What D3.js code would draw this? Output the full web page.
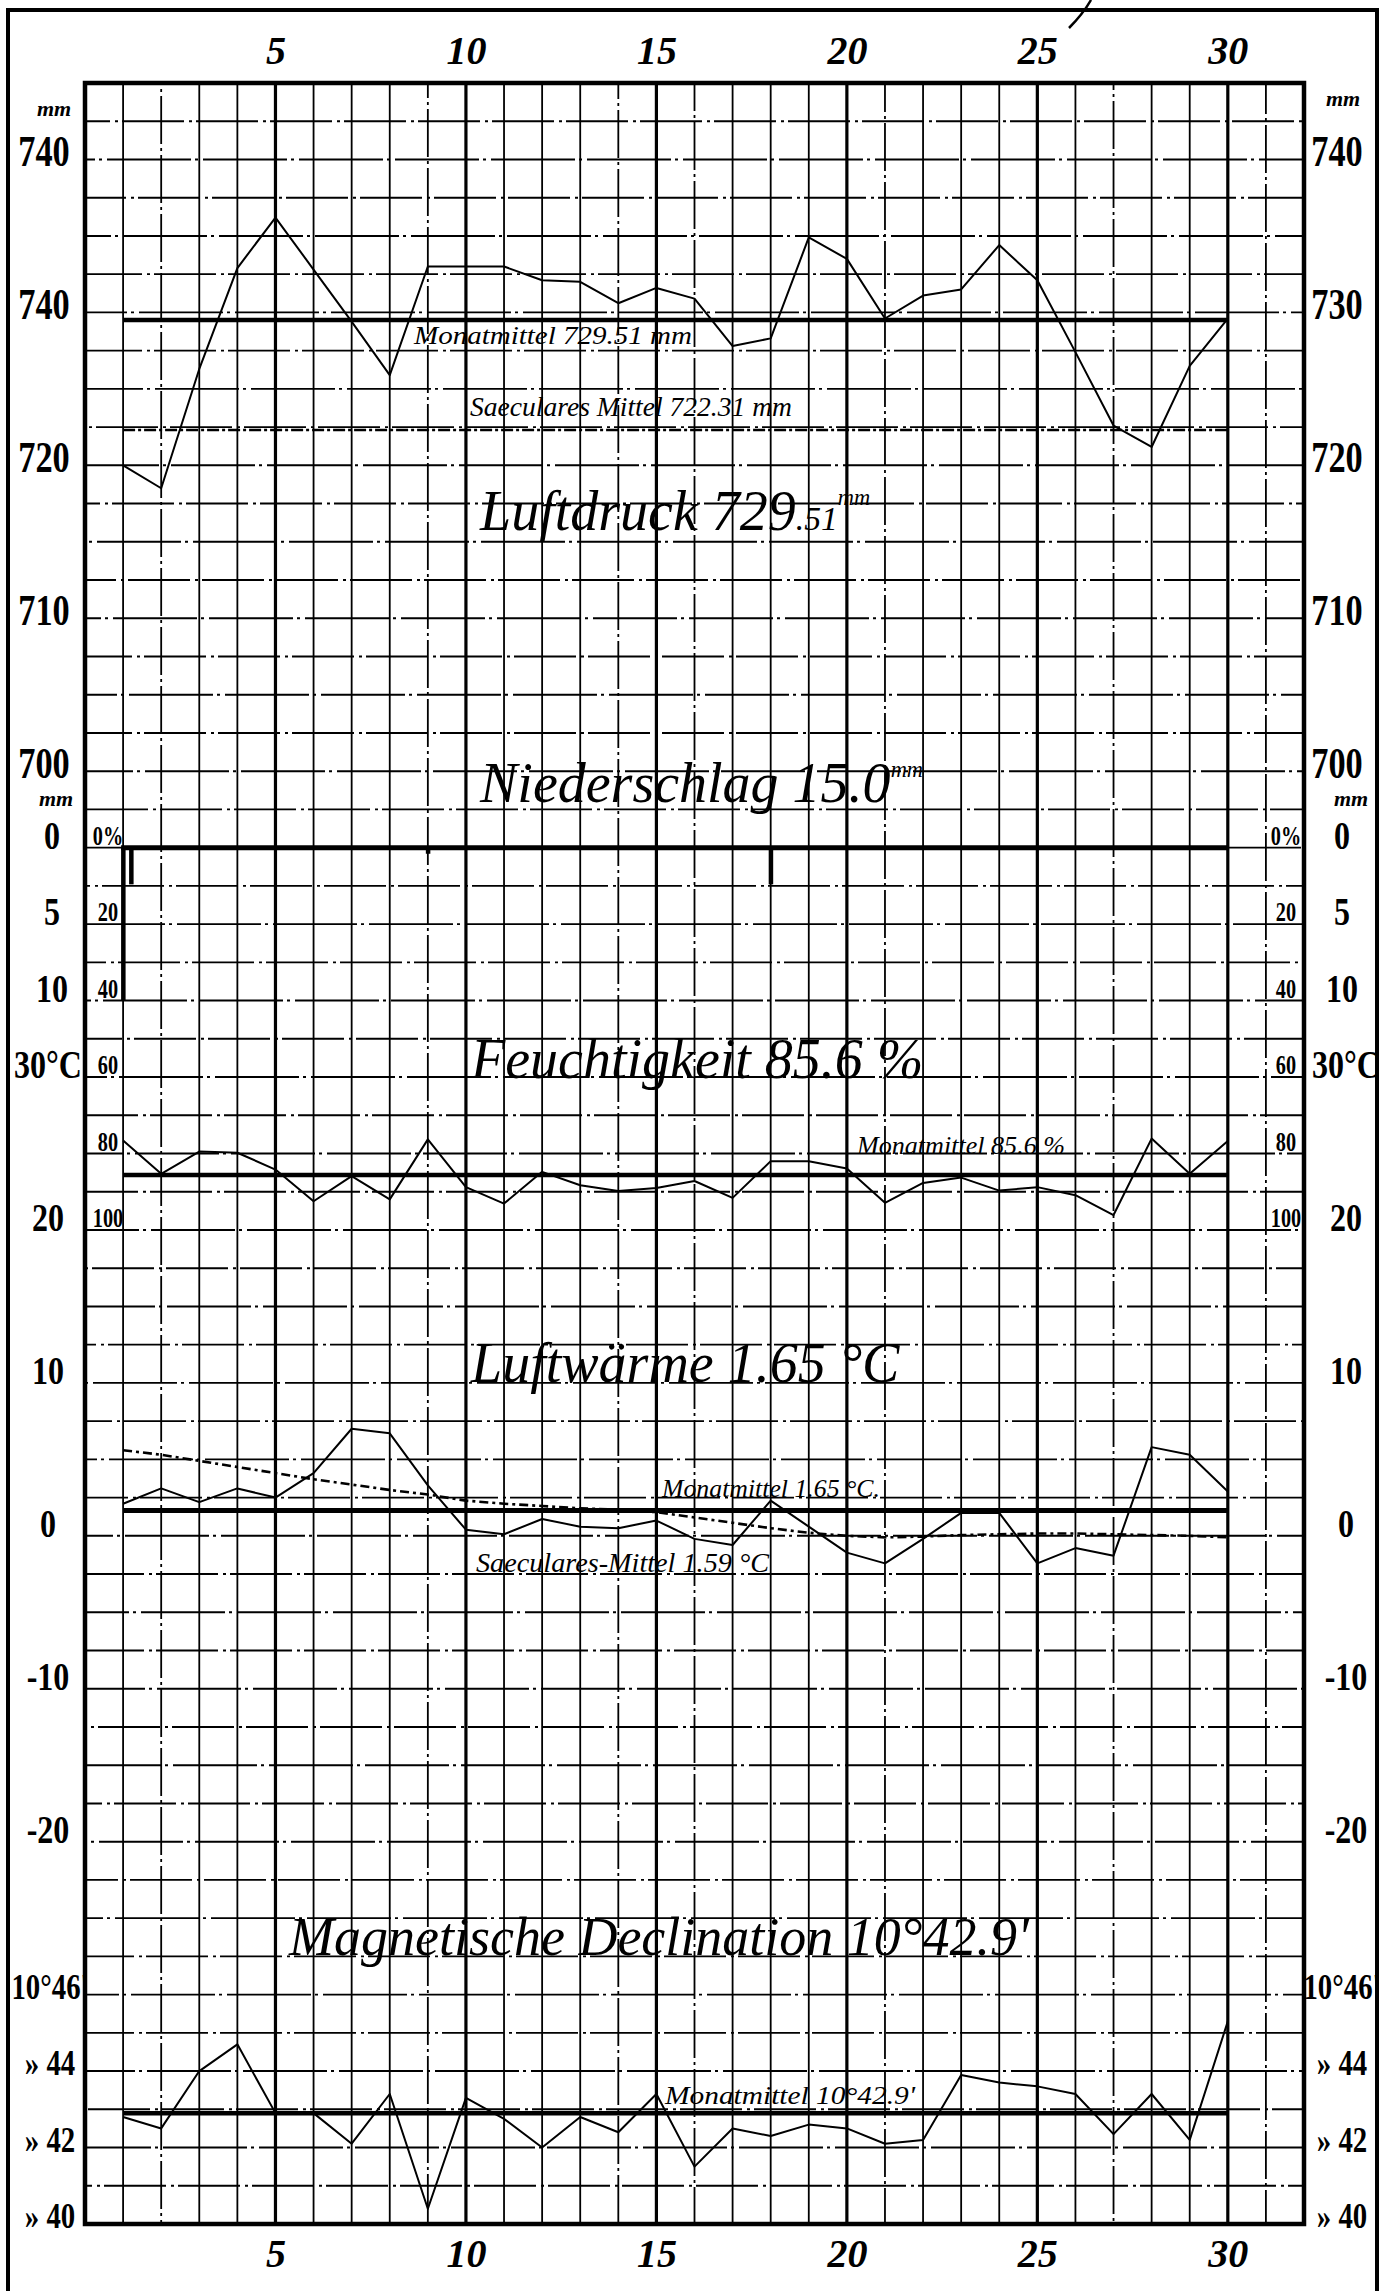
<!DOCTYPE html>
<html lang="de">
<head>
  <meta charset="UTF-8" />
  <title>Monatstafel</title>
  <script src="https://cdn.jsdelivr.net/npm/d3@7"></script>
  <style>
    body {
      margin: 0;
      background-color: #fff;
    }

    svg {
      display: block;
      background-color: #fff;
    }

    .hand {
      font-family: "Liberation Serif", "DejaVu Serif", serif;
      font-style: italic;
      fill: #000;
    }
  </style>
</head>
<body>
  <div id="chart"></div>

  <script>
    // ---- data ----
    const days = d3.range(1, 31);
    const dayTicks = [5, 10, 15, 20, 25, 30];

    // Luftdruck (mm)
    const pressure = [720.0, 718.5, 726.3, 732.9, 736.2, 732.8, 729.4, 725.9, 733.0, 733.0,
      733.0, 732.1, 732.0, 730.6, 731.6, 730.9, 727.8, 728.3, 734.9, 733.5,
      729.6, 731.1, 731.5, 734.4, 732.1, 727.4, 722.6, 721.2, 726.5, 729.6];
    const pressureMean = 729.51;
    const pressureSecular = 722.31;
    const pressureTicks = [740, 730, 720, 710, 700];
    const pressureLabelsLeft = ["740", "740", "720", "710", "700"];
    const pressureLabelsRight = ["740", "730", "720", "710", "700"];

    // Niederschlag (mm)
    const precipDays = [1, 9, 18];
    const precip = [10.0, 0.4, 2.4];
    const precipExtraDays = [1];
    const precipExtra = [2.4];
    const precipTicks = [0, 5, 10];
    const precipLabels = ["0", "5", "10"];

    // Feuchtigkeit (%)
    const humidity = [76.6, 85.3, 79.5, 79.8, 84.2, 92.5, 85.9, 92.0, 76.3, 88.8,
      93.1, 84.8, 88.3, 89.8, 89.0, 87.2, 91.6, 82.0, 82.0, 83.9,
      92.9, 87.7, 86.3, 89.7, 88.8, 90.9, 96.1, 76.1, 85.3, 76.7];
    const humidityMean = 85.6;
    const humidityTicks = [0, 20, 40, 60, 80, 100];
    const humidityLabels = ["0%", "20", "40", "60", "80", "100"];

    // Luftwaerme (deg C)
    const temperature = [2.1, 3.1, 2.2, 3.1, 2.5, 4.1, 7.0, 6.7, 3.3, 0.4,
      0.1, 1.1, 0.6, 0.5, 1.0, -0.2, -0.6, 2.3, 0.6, -1.1,
      -1.8, -0.2, 1.5, 1.5, -1.8, -0.8, -1.3, 5.8, 5.3, 2.9];
    const temperatureSecular = [5.6, 5.3, 4.9, 4.5, 4.1, 3.7, 3.35, 3.0, 2.7, 2.3,
      2.1, 1.95, 1.8, 1.7, 1.55, 1.2, 0.85, 0.5, 0.2, 0.0,
      -0.1, -0.05, 0.05, 0.1, 0.15, 0.15, 0.1, 0.05, 0.0, -0.1];
    const temperatureMean = 1.65;
    const temperatureTicks = [30, 20, 10, 0, -10, -20];
    const temperatureLabels = ["30°C", "20", "10", "0", "-10", "-20"];

    // Magnetische Declination (minutes over 10 deg)
    const declination = [42.8, 42.5, 44.0, 44.7, 42.9, 42.9, 42.1, 43.4, 40.4, 43.3,
      42.75, 42.0, 42.8, 42.4, 43.4, 41.5, 42.5, 42.3, 42.6, 42.5,
      42.1, 42.2, 43.9, 43.7, 43.6, 43.4, 42.35, 43.4, 42.2, 45.3];
    const declinationMean = 42.9;
    const declinationTicks = [46, 44, 42, 40];
    const declinationLabels = ["10°46'", "» 44", "» 42", "» 40"];

    const dashedColumns = [2, 9, 14, 16, 21, 27, 31];

    // ---- layout ----
    const width = 1387;
    const height = 2291;

    const svg = d3.select("#chart")
      .append("svg")
      .attr("width", width)
      .attr("height", height);

    const x = d3.scaleLinear().domain([0, 32]).range([85, 1304]);
    const row = d3.scaleLinear().domain([0, 56]).range([83, 2224]);

    const yP = d3.scaleLinear().domain([745, 700]).range([row(0), row(18)]);
    const yR = d3.scaleLinear().domain([0, 10]).range([row(20), row(24)]);
    const yH = d3.scaleLinear().domain([0, 100]).range([row(20), row(30)]);
    const yT = d3.scaleLinear().domain([30, -20]).range([row(26), row(46)]);
    const yD = d3.scaleLinear().domain([46, 40]).range([row(50), row(56)]);

    // outer frame
    svg.append("path")
      .attr("d", `M8,${height} L8,10 L1377,10 L1377,${height}`)
      .attr("fill", "none")
      .attr("stroke", "#000")
      .attr("stroke-width", 4);

    // fragment of the cut-off heading
    svg.append("path")
      .attr("d", "M1091,0 Q1083,14 1069,28")
      .attr("fill", "none")
      .attr("stroke", "#000")
      .attr("stroke-width", 2.5);

    // grid, ruled by hand so the breaks wander from row to row
    const grid = svg.append("g").attr("stroke", "#000");

    grid.selectAll(".hrow")
      .data(d3.range(1, 56))
      .enter()
      .append("line")
      .attr("x1", x(0))
      .attr("x2", x(32))
      .attr("y1", d => row(d))
      .attr("y2", d => row(d))
      .attr("stroke-width", 1.9)
      .attr("stroke-dasharray", (d, i) => i % 2 ? "84,4,3,5" : "62,5,3,4")
      .attr("stroke-dashoffset", d => (d * 37) % 90);

    grid.selectAll(".vcol")
      .data(d3.range(1, 32))
      .enter()
      .append("line")
      .attr("x1", d => x(d))
      .attr("x2", d => x(d))
      .attr("y1", row(0))
      .attr("y2", row(56))
      .attr("stroke-width", d => d % 5 === 0 ? 3.2 : 1.8)
      .attr("stroke-dasharray", d => dashedColumns.includes(d) ? "48,4,3,4" : null)
      .attr("stroke-dashoffset", d => (d * 23) % 58);

    // plot border
    svg.append("rect")
      .attr("x", x(0))
      .attr("y", row(0))
      .attr("width", x(32) - x(0))
      .attr("height", row(56) - row(0))
      .attr("fill", "none")
      .attr("stroke", "#000")
      .attr("stroke-width", 4.5);

    // ---- axes ----
    const labelFont = "'Liberation Serif', 'DejaVu Serif', serif";

    function sideAxis(scale, values, labels, xPos, size, shift, squeeze) {
      const axis = d3.axisLeft(scale)
        .tickValues(values)
        .tickFormat((d, i) => labels[i])
        .tickSize(0)
        .tickPadding(0);
      const g = svg.append("g").call(axis);
      g.select(".domain").remove();
      g.selectAll("text")
        .attr("x", xPos / squeeze)
        .attr("y", shift)
        .attr("text-anchor", "middle")
        .attr("font-family", labelFont)
        .attr("font-weight", "bold")
        .attr("font-size", size)
        .attr("fill", "#000")
        .attr("transform", `scale(${squeeze},1)`);
      return g;
    }

    function dayAxis(yPos) {
      const axis = d3.axisTop(x).tickValues(dayTicks).tickSize(0).tickPadding(0);
      const g = svg.append("g")
        .attr("transform", `translate(0,${yPos})`)
        .call(axis);
      g.select(".domain").remove();
      g.selectAll("text")
        .attr("y", 0)
        .attr("dy", "0.35em")
        .attr("font-family", labelFont)
        .attr("font-style", "italic")
        .attr("font-weight", "bold")
        .attr("font-size", 40)
        .attr("fill", "#000");
    }

    dayAxis(50);
    dayAxis(2253);

    sideAxis(yP, pressureTicks, pressureLabelsLeft, 44, 44, -8, 0.78);
    sideAxis(yP, pressureTicks, pressureLabelsRight, 1337, 44, -8, 0.78);
    sideAxis(yR, precipTicks, precipLabels, 52, 40, -12, 0.8);
    sideAxis(yR, precipTicks, precipLabels, 1342, 40, -12, 0.8);
    sideAxis(yT, temperatureTicks, temperatureLabels, 48, 40, -12, 0.8);
    sideAxis(yT, temperatureTicks, temperatureLabels, 1346, 40, -12, 0.8);
    sideAxis(yD, declinationTicks, declinationLabels, 50, 36, -8, 0.8);
    sideAxis(yD, declinationTicks, declinationLabels, 1342, 36, -8, 0.8);
    sideAxis(yH, humidityTicks, humidityLabels, 108, 27, -12, 0.75);
    sideAxis(yH, humidityTicks, humidityLabels, 1286, 27, -12, 0.75);

    // unit marks
    [[54, yP(743) + 2], [1343, yP(743) - 8], [56, yR(0) - 42], [1351, yR(0) - 42]].forEach(p => {
      svg.append("text")
        .attr("class", "hand")
        .attr("x", p[0])
        .attr("y", p[1])
        .attr("text-anchor", "middle")
        .attr("font-size", 22)
        .attr("font-weight", "bold")
        .text("mm");
    });

    // ---- helpers ----
    function hline(y, value, width, dash) {
      svg.append("line")
        .attr("x1", x(1))
        .attr("x2", x(30))
        .attr("y1", y(value))
        .attr("y2", y(value))
        .attr("stroke", "#000")
        .attr("stroke-width", width)
        .attr("stroke-dasharray", dash);
    }

    function series(y, values, width, dash) {
      const line = d3.line()
        .x((d, i) => x(days[i]))
        .y(d => y(d));
      svg.append("path")
        .datum(values)
        .attr("d", line)
        .attr("fill", "none")
        .attr("stroke", "#000")
        .attr("stroke-width", width)
        .attr("stroke-linejoin", "round")
        .attr("stroke-dasharray", dash);
    }

    function label(txt, xPos, yPos, size, length) {
      const t = svg.append("text")
        .attr("class", "hand")
        .attr("x", xPos)
        .attr("y", yPos)
        .attr("font-size", size)
        .text(txt);
      if (length) {
        t.attr("textLength", length).attr("lengthAdjust", "spacingAndGlyphs");
      }
      return t;
    }

    function title(main, small, sup, xPos, yPos, size) {
      const t = svg.append("text")
        .attr("class", "hand")
        .attr("x", xPos)
        .attr("y", yPos)
        .attr("font-size", size)
        .text(main);
      if (small) {
        t.append("tspan").attr("font-size", size * 0.6).text(small);
      }
      if (sup) {
        t.append("tspan").attr("font-size", size * 0.4).attr("dy", -size * 0.45).text(sup);
      }
    }

    // ---- Luftdruck ----
    hline(yP, pressureMean, 4.5, null);
    hline(yP, pressureSecular, 2.6, "12,3,3,3");
    series(yP, pressure, 2, null);
    label("Monatmittel 729.51 mm", 414, 344, 26, 278);
    label("Saeculares Mittel 722.31 mm", 470, 416, 28, 322);
    title("Luftdruck 729", ".51", "mm", 480, 530, 56);

    // ---- Niederschlag ----
    title("Niederschlag 15.0", null, "mm", 480, 802, 56);
    svg.append("line")
      .attr("x1", x(1) - 2)
      .attr("x2", x(30))
      .attr("y1", yR(0))
      .attr("y2", yR(0))
      .attr("stroke", "#000")
      .attr("stroke-width", 5);
    svg.selectAll(".rain")
      .data(precip)
      .enter()
      .append("rect")
      .attr("x", (d, i) => x(precipDays[i]) - 2)
      .attr("y", yR(0))
      .attr("width", 4.5)
      .attr("height", d => yR(d) - yR(0))
      .attr("fill", "#000");
    svg.selectAll(".rain2")
      .data(precipExtra)
      .enter()
      .append("rect")
      .attr("x", (d, i) => x(precipExtraDays[i]) + 6)
      .attr("y", yR(0))
      .attr("width", 4.5)
      .attr("height", d => yR(d) - yR(0))
      .attr("fill", "#000");

    // ---- Feuchtigkeit ----
    title("Feuchtigkeit 85.6 %", null, null, 471, 1078, 56);
    hline(yH, humidityMean, 4.5, null);
    series(yH, humidity, 2, null);
    label("Monatmittel 85.6 %", 857, 1154, 26, 208);

    // ---- Luftwaerme ----
    title("Luftwärme 1.65 °C", null, null, 471, 1382, 56);
    hline(yT, temperatureMean, 5, null);
    series(yT, temperatureSecular, 2.6, "9,4,3,4");
    series(yT, temperature, 2, null);
    label("Monatmittel 1.65 °C.", 662, 1497, 26, 218);
    label("Saeculares-Mittel 1.59 °C", 476, 1572, 28, 293);

    // ---- Magnetische Declination ----
    title("Magnetische Declination 10°42.9'", null, null, 289, 1955, 54);
    hline(yD, declinationMean, 4.5, null);
    series(yD, declination, 2, null);
    label("Monatmittel 10°42.9'", 665, 2104, 26, 250);
  </script>
</body>
</html>
